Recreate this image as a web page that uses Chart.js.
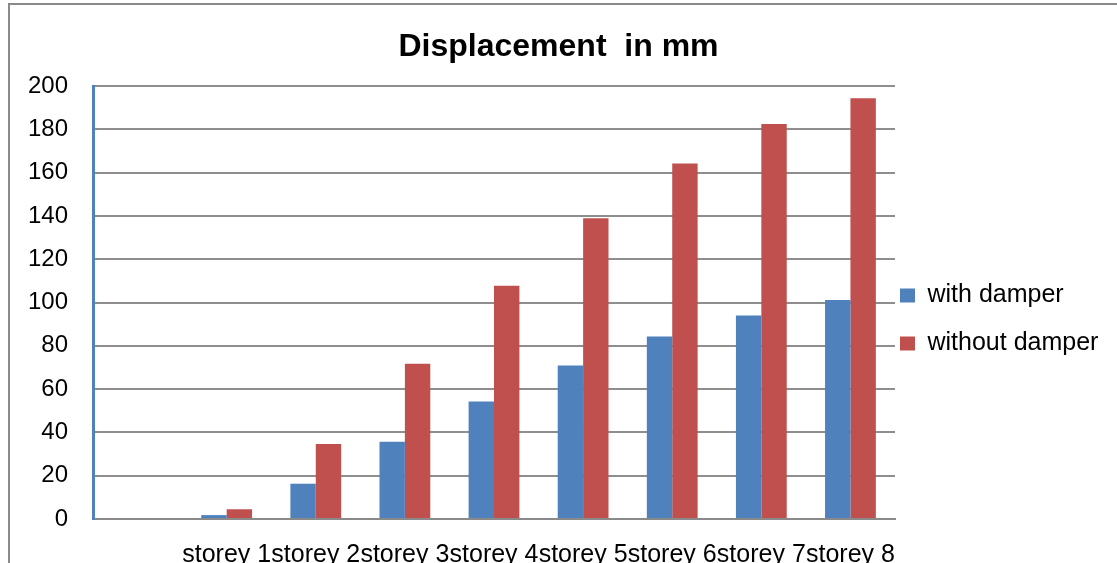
<!DOCTYPE html>
<html>
<head>
<meta charset="utf-8">
<script src="https://cdn.jsdelivr.net/npm/chart.js@4"></script>
<style>
  html, body { margin: 0; padding: 0; background: #fff; overflow: hidden; }
  #frame { position: absolute; left: 8px; top: 3px; width: 1200px; height: 700px;
           border-left: 2px solid #8a8a8a; border-top: 2px solid #8a8a8a; }
  #chart { position: absolute; left: 0; top: 0; }
</style>
</head>
<body>
<div id="frame"></div>
<canvas id="chart" width="1117" height="570"></canvas>
<script>
// valeurs
const storeys = ['', 'storey 1', 'storey 2', 'storey 3', 'storey 4', 'storey 5', 'storey 6', 'storey 7', 'storey 8'];
const withDamper = [0, 1.8, 16.3, 35.7, 54.3, 70.9, 84.3, 94, 101.2];
const withoutDamper = [0, 4.5, 34.6, 71.7, 107.7, 138.9, 164.2, 182.5, 194.3];
const yTicks = [0, 20, 40, 60, 80, 100, 120, 140, 160, 180, 200];

const font = "'Liberation Sans', Arial, sans-serif";

// decale la legende pour coller au modele
const legendShift = {
    id: 'legendShift',
    afterLayout(chart) {
        const lg = chart.legend;
        lg.left -= 18; lg.right -= 18;
        lg.top += 17; lg.bottom += 17;
    }
};

const ctx = document.getElementById('chart').getContext('2d');
new Chart(ctx, {
    type: 'bar',
    data: {
        labels: storeys,
        datasets: [{
            label: 'with damper',
            data: withDamper,
            backgroundColor: '#4F81BD',
            categoryPercentage: 0.57,
            barPercentage: 1
        }, {
            label: 'without damper',
            data: withoutDamper,
            backgroundColor: '#C0504D',
            categoryPercentage: 0.57,
            barPercentage: 1
        }]
    },
    options: {
        responsive: false,
        animation: false,
        devicePixelRatio: 1,
        layout: { padding: 0 },
        scales: {
            x: {
                grid: { display: false, drawTicks: false },
                border: { color: '#8a8a8a', width: 2 },
                ticks: {
                    color: '#000',
                    font: { family: font, size: 25 },
                    padding: 21,
                    autoSkip: false,
                    maxRotation: 0
                },
                afterFit: s => { s.height = 51; }
            },
            y: {
                min: 0,
                max: 200,
                afterBuildTicks: s => { s.ticks = yTicks.map(v => ({ value: v })); },
                grid: { color: '#8e8e8e', lineWidth: 2, drawTicks: false },
                border: { color: '#4F81BD', width: 3 },
                ticks: {
                    color: '#000',
                    font: { family: font, size: 24 },
                    padding: 25
                },
                afterFit: s => { s.width = 93; }
            }
        },
        plugins: {
            title: {
                display: true,
                text: 'Displacement  in mm',
                color: '#000',
                font: { family: font, size: 32, weight: 'bold', lineHeight: 1.2 },
                padding: { top: 28, bottom: 19.6 }
            },
            legend: {
                position: 'right',
                fullSize: false,
                maxWidth: 222,
                labels: {
                    color: '#000',
                    font: { family: font, size: 25 },
                    boxWidth: 15,
                    boxHeight: 14,
                    padding: 23
                }
            },
            tooltip: { enabled: false }
        }
    },
    plugins: [legendShift]
});
</script>
</body>
</html>
